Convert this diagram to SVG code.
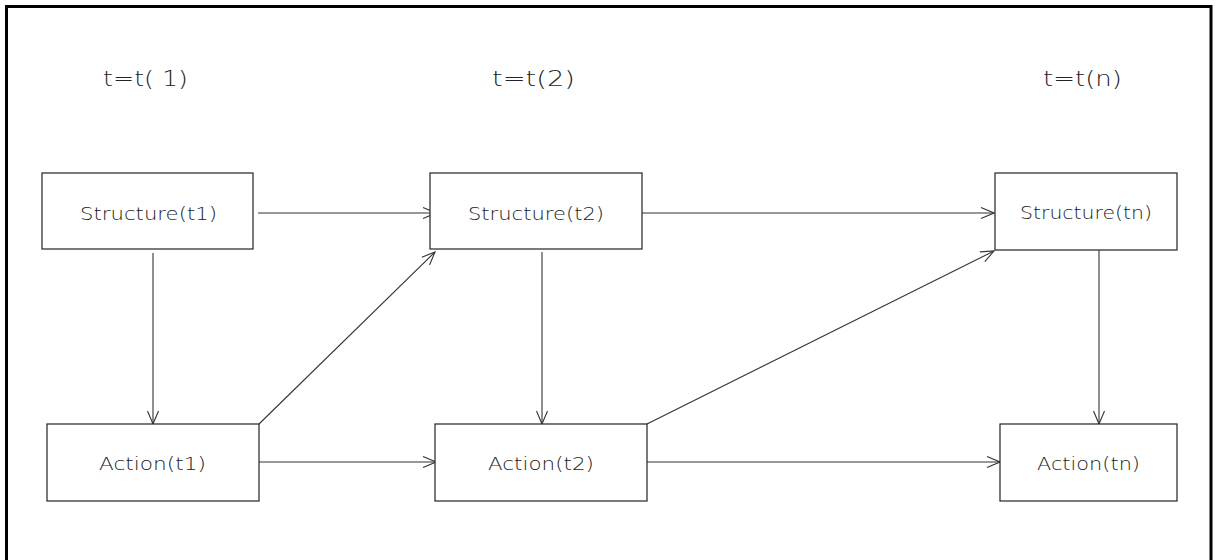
<svg xmlns="http://www.w3.org/2000/svg" width="1219" height="560" viewBox="0 0 1219 560">
<style>
.box{fill:#fff;stroke:#222;stroke-width:1.2}
.lbl{font-family:"DejaVu Sans","Liberation Sans",sans-serif;font-size:17px;font-weight:300;fill:#222}
.ttl{font-family:"DejaVu Sans","Liberation Sans",sans-serif;font-size:21px;font-weight:300;fill:#222}
.edge{stroke:#333;stroke-width:1.1;fill:none;marker-end:url(#arr)}
</style>
<defs>
<marker id="arr" markerUnits="userSpaceOnUse" markerWidth="15" markerHeight="13" refX="14" refY="6.5" orient="auto">
<path d="M1,1 L14,6.5 L1,12" fill="none" stroke="#333" stroke-width="1.1"/>
</marker>
</defs>
<rect x="0" y="0" width="1219" height="560" fill="#fff"/>
<path d="M6.5,565 L6.5,6.5 L1211,6.5 L1211,565" fill="none" stroke="#000" stroke-width="3"/>
<g id="titles">
<text class="ttl" x="103" y="86" textLength="85" lengthAdjust="spacingAndGlyphs">t=t( 1)</text>
<text class="ttl" x="492" y="86" textLength="83" lengthAdjust="spacingAndGlyphs">t=t(2)</text>
<text class="ttl" x="1043" y="86" textLength="79" lengthAdjust="spacingAndGlyphs">t=t(n)</text>
</g>
<g id="connectors">
<line class="edge" x1="258" y1="213" x2="436" y2="213"/>
<line class="edge" x1="153" y1="253" x2="153" y2="424"/>
<line class="edge" x1="259" y1="424" x2="435" y2="252"/>
<line class="edge" x1="259" y1="462" x2="436" y2="462"/>
<line class="edge" x1="642" y1="213" x2="994" y2="213"/>
<line class="edge" x1="542" y1="252" x2="542" y2="424"/>
<line class="edge" x1="647" y1="424" x2="994" y2="251"/>
<line class="edge" x1="647" y1="462" x2="1000" y2="462"/>
<line class="edge" x1="1099" y1="250" x2="1099" y2="424"/>
</g>
<g id="s1"><rect class="box" x="42" y="173" width="211" height="76"/><text class="lbl" x="80" y="220" textLength="137" lengthAdjust="spacingAndGlyphs">Structure(t1)</text></g>
<g id="s2"><rect class="box" x="430" y="173" width="212" height="76"/><text class="lbl" x="468" y="220" textLength="136" lengthAdjust="spacingAndGlyphs">Structure(t2)</text></g>
<g id="sn"><rect class="box" x="995" y="173" width="182" height="77"/><text class="lbl" x="1020" y="219" textLength="132" lengthAdjust="spacingAndGlyphs">Structure(tn)</text></g>
<g id="a1"><rect class="box" x="47" y="424" width="212" height="77"/><text class="lbl" x="99" y="470" textLength="107" lengthAdjust="spacingAndGlyphs">Action(t1)</text></g>
<g id="a2"><rect class="box" x="435" y="424" width="212" height="77"/><text class="lbl" x="488" y="470" textLength="106" lengthAdjust="spacingAndGlyphs">Action(t2)</text></g>
<g id="an"><rect class="box" x="1000" y="424" width="177" height="77"/><text class="lbl" x="1037" y="470" textLength="103" lengthAdjust="spacingAndGlyphs">Action(tn)</text></g>
</svg>
